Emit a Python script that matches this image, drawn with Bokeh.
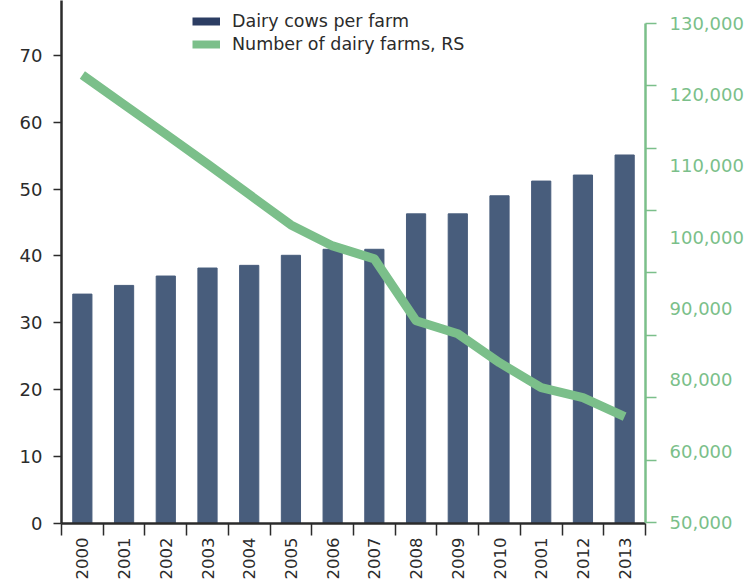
import math
import numpy as np
from bokeh.plotting import figure
from bokeh.models import (Range1d, LinearAxis, FixedTicker, Legend, LegendItem,
                          CustomJSTickFormatter)
from bokeh.embed import file_html
from bokeh.resources import INLINE

# ---- data ----
years = ["2000", "2001", "2002", "2003", "2004", "2005", "2006", "2007",
         "2008", "2009", "2010", "2001", "2012", "2013"]
cows_per_farm = [34.3, 35.6, 37.0, 38.2, 38.6, 40.1, 41.0, 41.0,
                 46.3, 46.3, 49.0, 51.2, 52.1, 55.1]
dairy_farms = [121700, 116960, 112240, 107440, 102560, 97680, 94320, 92240,
               82320, 80240, 75600, 71600, 70000, 66960]
left_ticks = [0, 10, 20, 30, 40, 50, 60, 70]
right_ticks = [50000, 60000, 70000, 80000, 90000, 100000, 110000, 120000, 130000]
right_tick_labels = ["50,000", "60,000", "80,000", "90,000", "100,000",
                     "110,000", "120,000", "130,000"]

BAR = "#485d7c"
BAR_LEG = "#2c3d63"
GREEN = "#7bbf8a"
TXT = "#2b2b2b"
FONT = "DejaVu Sans"

x = list(range(len(years)))

p = figure(width=746, height=582, output_backend="svg", toolbar_location=None,
           x_range=Range1d(-0.5, len(years) - 0.5), y_range=Range1d(0, 78.2),
           min_border_left=61, min_border_right=100, min_border_top=0,
           min_border_bottom=59)
p.outline_line_color = None
p.xgrid.visible = False
p.ygrid.visible = False

# bars and line
p.vbar(x=x, top=cows_per_farm, width=0.46, color=BAR)
p.extra_y_ranges = {"farms": Range1d(49840, 133640)}
p.line(x=x, y=dairy_farms, y_range_name="farms", line_width=9,
       line_color=GREEN, line_join="round")

# x axis
xa = p.xaxis[0]
xa.ticker = FixedTicker(ticks=x, minor_ticks=[i - 0.5 for i in range(len(years) + 1)])
xa.major_label_overrides = {i: years[i] for i in x}
xa.major_tick_out = 0
xa.major_tick_in = 0
xa.minor_tick_out = 12
xa.minor_tick_in = 0
xa.minor_tick_line_color = TXT
xa.minor_tick_line_width = 1.5
xa.axis_line_color = TXT
xa.axis_line_width = 2.5
xa.major_label_orientation = math.pi / 2
xa.major_label_standoff = 2
xa.major_label_text_font = FONT
xa.major_label_text_font_size = "16.5px"
xa.major_label_text_color = TXT

# left axis
ya = p.yaxis[0]
ya.ticker = FixedTicker(ticks=left_ticks)
ya.major_tick_out = 8
ya.major_tick_in = 0
ya.minor_tick_line_color = None
ya.major_tick_line_color = TXT
ya.major_tick_line_width = 1.5
ya.axis_line_color = TXT
ya.axis_line_width = 2.5
ya.major_label_standoff = 11
ya.major_label_text_font = FONT
ya.major_label_text_font_size = "18px"
ya.major_label_text_color = TXT

# right axis: ticks
ax1 = LinearAxis(y_range_name="farms", ticker=FixedTicker(ticks=right_ticks),
                 formatter=CustomJSTickFormatter(code="return ''"),
                 major_tick_out=11, major_tick_in=0, minor_tick_line_color=None,
                 axis_line_color=GREEN, axis_line_width=2.5,
                 major_tick_line_color=GREEN, major_tick_line_width=1.5,
                 bounds=(right_ticks[0], right_ticks[-1]), major_label_standoff=0)
p.add_layout(ax1, "right")

# right axis: labels, evenly spread as in the original
label_pos = [float(v) for v in np.linspace(right_ticks[0], right_ticks[-1], len(right_tick_labels))]
ax2 = LinearAxis(y_range_name="farms", ticker=FixedTicker(ticks=label_pos),
                 formatter=CustomJSTickFormatter(args=dict(labels=right_tick_labels),
                                                 code="return labels[index]"),
                 axis_line_color=None, major_tick_line_color=None,
                 minor_tick_line_color=None, major_tick_out=0, major_tick_in=0,
                 major_label_standoff=13, major_label_text_font=FONT,
                 major_label_text_font_size="18px", major_label_text_color=GREEN)
p.add_layout(ax2, "right")

# legend (swatch-only renderers with no visible points)
nan = float("nan")
r1 = p.line(x=[nan], y=[nan], line_color=BAR_LEG, line_width=8)
r2 = p.line(x=[nan], y=[nan], line_color=GREEN, line_width=8)
legend = Legend(items=[LegendItem(label="Dairy cows per farm", renderers=[r1]),
                       LegendItem(label="Number of dairy farms, RS", renderers=[r2])],
                location=(131, 469), padding=0, margin=0, border_line_color=None,
                background_fill_alpha=0, glyph_width=28, glyph_height=20,
                label_standoff=12, label_text_font=FONT, label_text_font_size="17.5px",
                label_text_color=TXT, spacing=3)
p.add_layout(legend)

open("out.html", "w").write(file_html(p, INLINE))
